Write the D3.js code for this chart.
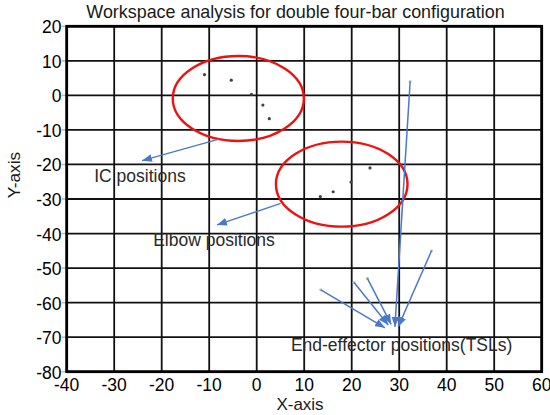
<!DOCTYPE html>
<html><head><meta charset="utf-8">
<script src="https://cdn.jsdelivr.net/npm/d3@7"></script>
<style>body{margin:0;background:#fff}svg{display:block;font-family:"Liberation Sans",Arial,sans-serif}</style>
</head><body><svg id="c" width="550" height="415"></svg>
<script>
// ---- data ----
const xTicks = [-40, -30, -20, -10, 0, 10, 20, 30, 40, 50, 60];
const yTicks = [20, 10, 0, -10, -20, -30, -40, -50, -60, -70, -80];
const icX = [-11.0, -5.35, -1.1, 1.3, 2.65];
const icY = [6.0, 4.4, 0.3, -2.8, -6.75];
const elbowX = [13.4, 16.1, 19.85, 23.85];
const elbowY = [-29.3, -27.9, -25.1, -21.0];
const endX = [32.3, 36.8, 23.3, 20.5, 13.5];
const endY = [4.0, -45.0, -53.0, -54.2, -56.3];
// arrow targets for the end-effector arrows (same order as endX/endY)
const endTipX = [29.1, 29.8, 28.3, 27.7, 27.0];
const endTipY = [-67.0, -67.0, -66.3, -66.5, -67.3];
// circled groups: centre x, centre y, radius x, radius y (data units)
const groupCX = [-3.87, 17.9];
const groupCY = [-0.9, -25.7];
const groupRX = [13.8, 13.85];
const groupRY = [12.3, 12.3];
// annotation arrows (from, to) and labels
const noteFromX = [-7.94, 5.05];
const noteFromY = [-12.7, -31.3];
const noteToX = [-24.15, -8.36];
const noteToY = [-18.9, -37.5];
const labelText = ["IC positions", "Elbow positions", "End-effector positions(TSLs)"];
const labelX = [-34.2, -21.8, 7.2];
const labelY = [-25.0, -43.5, -74.0];

const svg = d3.select("#c");
const x = d3.scaleLinear().domain([-40, 60]).range([66.7, 541.7]);
const y = d3.scaleLinear().domain([-80, 20]).range([371.7, 26.3]);

const blue = "#4a78cf";
svg.append("defs").append("marker")
  .attr("id", "ah").attr("markerUnits", "userSpaceOnUse")
  .attr("markerWidth", 11).attr("markerHeight", 8)
  .attr("refX", 10).attr("refY", 4).attr("orient", "auto")
  .append("path").attr("d", "M0,0L10,4L0,8z").attr("fill", blue);

// title
svg.append("text").attr("x", 295.5).attr("y", 17.5).attr("text-anchor", "middle")
  .attr("font-size", 17.9).attr("fill", "#1a1a1a")
  .text("Workspace analysis for double four-bar configuration");

// small tick stubs
svg.append("g").selectAll("line").data(yTicks).join("line")
  .attr("x1", x(-40) - 5).attr("x2", x(-40)).attr("y1", d => y(d)).attr("y2", d => y(d))
  .attr("stroke", "#bbb").attr("stroke-width", 1.5);

// grid
const g = svg.append("g");
g.selectAll(".vx").data(xTicks).join("line")
  .attr("x1", d => x(d)).attr("x2", d => x(d)).attr("y1", y(20)).attr("y2", y(-80))
  .attr("stroke", "#111").attr("stroke-width", 1.8);
g.selectAll(".hy").data(yTicks).join("line")
  .attr("y1", d => y(d)).attr("y2", d => y(d)).attr("x1", x(-40)).attr("x2", x(60))
  .attr("stroke", "#111").attr("stroke-width", 1.8);
g.append("rect").attr("x", x(-40)).attr("y", y(20))
  .attr("width", x(60) - x(-40)).attr("height", y(-80) - y(20))
  .attr("fill", "none").attr("stroke", "#000").attr("stroke-width", 2.8);

// tick labels
svg.append("g").selectAll("text").data(yTicks).join("text")
  .attr("x", 61.5).attr("y", d => y(d) + 7).attr("text-anchor", "end")
  .attr("font-size", 17.5).attr("fill", "#000").text(d => d);
svg.append("g").selectAll("text").data(xTicks).join("text")
  .attr("x", d => x(d)).attr("y", 390.5).attr("text-anchor", "middle")
  .attr("font-size", 17.5).attr("fill", "#000").text(d => d);

// axis titles
svg.append("text").attr("x", 300).attr("y", 410).attr("text-anchor", "middle")
  .attr("font-size", 17).attr("fill", "#1a1a1a").text("X-axis");
svg.append("text").attr("transform", "translate(19.5,175) rotate(-90)")
  .attr("text-anchor", "middle").attr("font-size", 17.3).attr("fill", "#1a1a1a").text("Y-axis");

// ellipses
svg.append("g").selectAll("ellipse").data(groupCX).join("ellipse")
  .attr("cx", (d, i) => x(d)).attr("cy", (d, i) => y(groupCY[i]))
  .attr("rx", (d, i) => x(d + groupRX[i]) - x(d))
  .attr("ry", (d, i) => y(groupCY[i] - groupRY[i]) - y(groupCY[i]))
  .attr("fill", "none").attr("stroke", "#f01010").attr("stroke-width", 2.4);

// points
svg.append("g").selectAll("circle").data(icX).join("circle")
  .attr("cx", d => x(d)).attr("cy", (d, i) => y(icY[i])).attr("r", 1.6).attr("fill", "#444");
svg.append("g").selectAll("circle").data(elbowX).join("circle")
  .attr("cx", d => x(d)).attr("cy", (d, i) => y(elbowY[i])).attr("r", 1.6).attr("fill", "#444");
svg.append("g").selectAll("circle").data(endX).join("circle")
  .attr("cx", d => x(d)).attr("cy", (d, i) => y(endY[i])).attr("r", 1.6).attr("fill", "#c9c7a6");

// end-effector arrows
svg.append("g").selectAll("line").data(endX).join("line")
  .attr("x1", d => x(d)).attr("y1", (d, i) => y(endY[i]))
  .attr("x2", (d, i) => x(endTipX[i])).attr("y2", (d, i) => y(endTipY[i]))
  .attr("stroke", blue).attr("stroke-width", 1.5).attr("marker-end", "url(#ah)");

// annotation arrows
svg.append("g").selectAll("line").data(noteFromX).join("line")
  .attr("x1", d => x(d)).attr("y1", (d, i) => y(noteFromY[i]))
  .attr("x2", (d, i) => x(noteToX[i])).attr("y2", (d, i) => y(noteToY[i]))
  .attr("stroke", blue).attr("stroke-width", 1.3).attr("marker-end", "url(#ah)");

// labels
svg.append("g").selectAll("text").data(labelText).join("text")
  .attr("x", (d, i) => x(labelX[i])).attr("y", (d, i) => y(labelY[i]))
  .attr("font-size", 17.5).attr("fill", "#2a2a2a").text(d => d);
</script></body></html>
